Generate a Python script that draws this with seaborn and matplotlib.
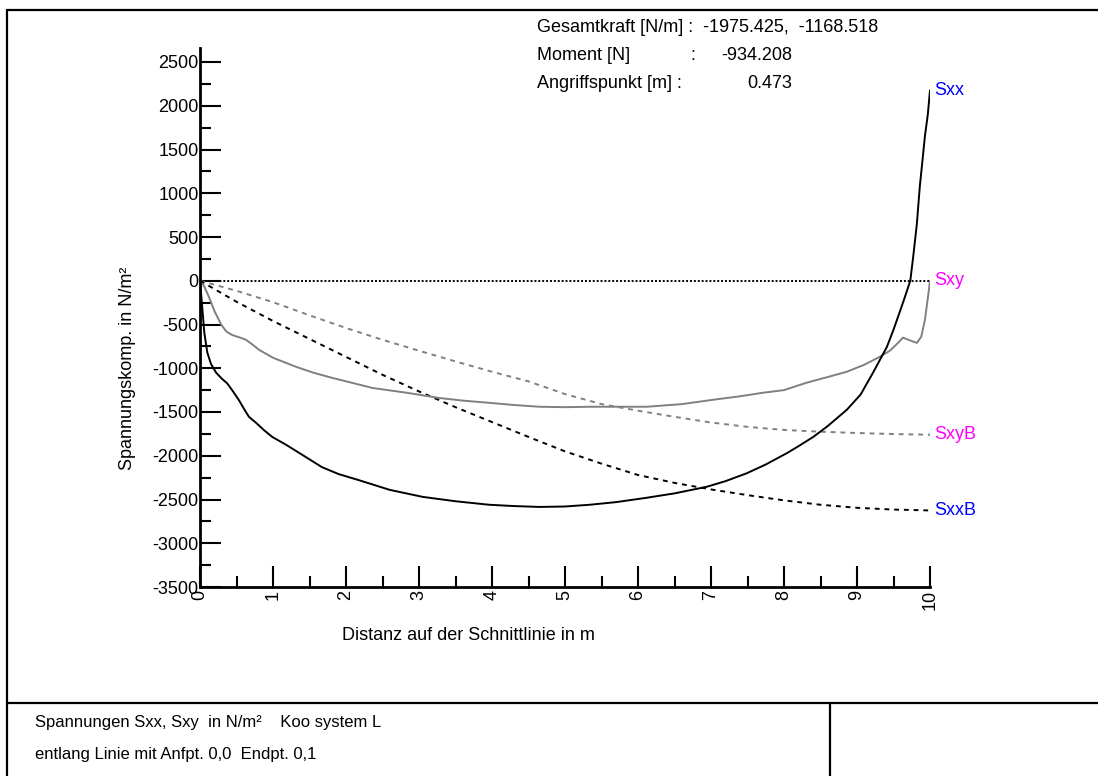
import numpy as np
import pandas as pd
import seaborn as sns
import matplotlib.pyplot as plt
from matplotlib.lines import Line2D
from matplotlib.ticker import MultipleLocator

# Sxx (black solid)
sxx_x = [0, 0.03, 0.06, 0.1, 0.15, 0.22, 0.3, 0.37, 0.44, 0.53, 0.6, 0.67, 0.77, 0.88, 0.99, 1.18, 1.45,
         1.67, 1.9, 2.18, 2.6, 3.05, 3.5, 3.96, 4.3, 4.65, 5.0, 5.34, 5.7, 6.12, 6.5, 6.94, 7.2, 7.49,
         7.75, 8.04, 8.2, 8.4, 8.6, 8.86, 9.05, 9.22, 9.41, 9.5, 9.63, 9.73, 9.77, 9.82, 9.86, 9.9, 9.93,
         9.97, 10.0]
sxx_y = [0, -300, -600, -820, -950, -1050, -1120, -1170, -1250, -1360, -1460, -1555, -1625, -1710, -1785,
         -1875, -2015, -2130, -2210, -2280, -2390, -2470, -2520, -2560, -2575, -2585, -2580, -2560, -2530,
         -2480, -2430, -2355, -2290, -2200, -2100, -1970, -1890, -1785, -1660, -1475, -1300, -1050, -755,
         -560, -250, 0, 275, 650, 1075, 1400, 1650, 1900, 2175]

# Sxy (grey solid)
sxy_x = [0, 0.05, 0.12, 0.2, 0.29, 0.36, 0.44, 0.55, 0.63, 0.72, 0.81, 1.0, 1.32, 1.55, 1.81, 2.1, 2.36,
         2.83, 3.28, 3.6, 3.96, 4.3, 4.65, 5.0, 5.34, 5.7, 6.12, 6.6, 7.03, 7.4, 7.71, 8.0, 8.31,
         8.6, 8.86, 9.1, 9.31, 9.45, 9.55, 9.63, 9.72, 9.82, 9.88, 9.93, 9.97, 10.0]
sxy_y = [-20, -50, -180, -350, -500, -580, -620, -650, -675, -730, -790, -880, -985, -1050, -1110, -1170,
         -1225, -1280, -1340, -1370, -1395, -1420, -1440, -1445, -1440, -1440, -1440, -1410, -1360, -1320,
         -1280, -1250, -1165, -1100, -1040, -960, -870, -800, -720, -650, -680, -710, -640, -450, -200, 0]

# SxxB / SxyB (dashed)
b_x = [0, 0.5, 1, 1.5, 2, 2.5, 3, 3.5, 4, 4.5, 5, 5.5, 6, 6.5, 7, 7.5, 8, 8.5, 9, 9.5, 10]
sxxb_y = [0, -240, -460, -665, -870, -1075, -1265, -1445, -1615, -1785, -1950, -2090, -2220, -2310,
          -2385, -2450, -2510, -2560, -2595, -2615, -2625]
sxyb_y = [0, -115, -245, -395, -540, -675, -800, -922, -1040, -1150, -1295, -1410, -1485, -1555,
          -1620, -1670, -1705, -1725, -1740, -1752, -1760]

zero_x = [0, 10]
zero_y = [0, 0]

sns.set_theme(style="ticks")
plt.rcParams['font.family'] = ['Liberation Sans', 'DejaVu Sans']
plt.rcParams['axes.unicode_minus'] = False
plt.rcParams['text.color'] = 'black'

fig = plt.figure(figsize=(10.98, 7.76), dpi=100)
ax = fig.add_axes([200 / 1098, 1 - 587 / 776, 730 / 1098, (587 - 48) / 776])

sns.lineplot(x=zero_x, y=zero_y, color="black", lw=1.4, linestyle=(0, (1, 1)), ax=ax)
sns.lineplot(x=b_x, y=sxyb_y, color="#808080", lw=1.4, linestyle=(0, (2.5, 2.5)), ax=ax)
sns.lineplot(x=b_x, y=sxxb_y, color="black", lw=1.4, linestyle=(0, (2.5, 2.5)), ax=ax)
sns.lineplot(x=sxy_x, y=sxy_y, color="#808080", lw=1.4, sort=False, ax=ax)
sns.lineplot(x=sxx_x, y=sxx_y, color="black", lw=1.4, sort=False, ax=ax)

ax.set_xlim(0, 10)
ax.set_ylim(-3500, 2660)
ax.xaxis.set_major_locator(MultipleLocator(1))
ax.xaxis.set_minor_locator(MultipleLocator(0.5))
ax.yaxis.set_major_locator(MultipleLocator(500))
ax.yaxis.set_minor_locator(MultipleLocator(250))
ax.set_yticks(np.arange(-3500, 2501, 500))
ax.tick_params(which="major", direction="in", length=15, width=1.5, color="black",
               labelsize=13, pad=1, labelcolor="black")
ax.tick_params(which="minor", direction="in", length=8, width=1.5, color="black")
ax.tick_params(axis="x", labelrotation=90, pad=2)
for lab in ax.get_xticklabels():
    lab.set_verticalalignment("top")
for side in ["top", "right"]:
    ax.spines[side].set_visible(False)
for side in ["left", "bottom"]:
    ax.spines[side].set_color("black")
    ax.spines[side].set_linewidth(2)
ax.set_xlabel("")
ax.set_ylabel("")
ax.patch.set_alpha(0)

# series labels at line ends
ax.text(10.06, sxx_y[-1], "Sxx", color="#0000FF", fontsize=13, va="center", ha="left")
ax.text(10.06, sxy_y[-1], "Sxy", color="#FF00FF", fontsize=13, va="center", ha="left")
ax.text(10.06, sxyb_y[-1], "SxyB", color="#FF00FF", fontsize=13, va="center", ha="left")
ax.text(10.06, sxxb_y[-1], "SxxB", color="#0000FF", fontsize=13, va="center", ha="left")

W, H = 1098, 776
def ft(x, y, s, **kw):
    fig.text(x / W, 1 - y / H, s, fontsize=kw.pop("fontsize", 13), va="center", color="black", **kw)

ft(468, 636, "Distanz auf der Schnittlinie in m", ha="center")
ft(128, 368, "Spannungskomp. in N/m²", ha="center", rotation=90)

ft(537, 27, "Gesamtkraft [N/m] :  -1975.425,  -1168.518", ha="left")
ft(537, 55, "Moment [N]", ha="left")
ft(690, 55, ":", ha="left")
ft(792, 55, "-934.208", ha="right")
ft(537, 83, "Angriffspunkt [m] :", ha="left")
ft(792, 83, "0.473", ha="right")

ft(35, 723, "Spannungen Sxx, Sxy  in N/m²    Koo system L", ha="left", fontsize=12)
ft(35, 755, "entlang Linie mit Anfpt. 0,0  Endpt. 0,1", ha="left", fontsize=12)

# frame lines
def fl(x0, y0, x1, y1):
    fig.add_artist(Line2D([x0 / W, x1 / W], [1 - y0 / H, 1 - y1 / H], color="black", lw=1.6))

fl(7, 10, 1098, 10)
fl(7, 10, 7, 776)
fl(7, 703, 1098, 703)
fl(830, 703, 830, 776)

fig.savefig("out.png", dpi=100)
